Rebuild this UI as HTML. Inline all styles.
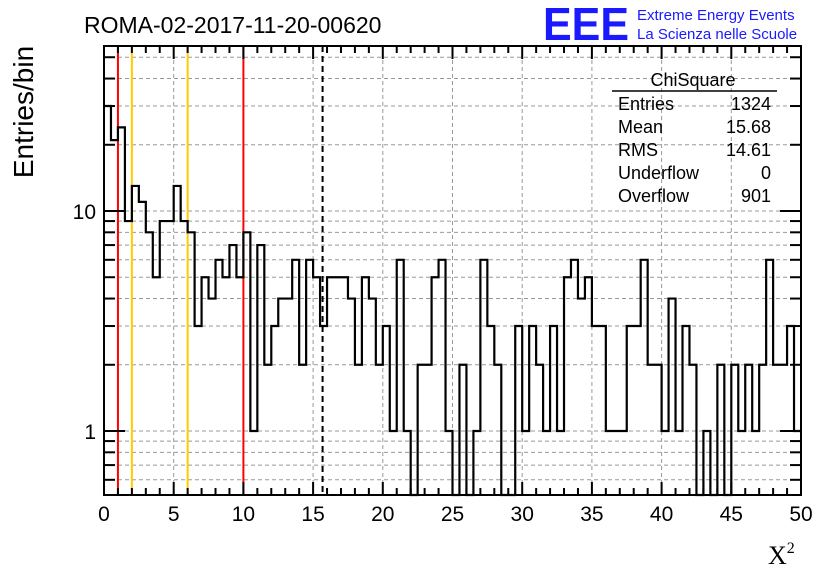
<!DOCTYPE html>
<html><head><meta charset="utf-8">
<style>
html,body{margin:0;padding:0;background:#fff;}
svg{display:block;font-family:"Liberation Sans",sans-serif;}
</style></head>
<body>
<svg id="chart" width="836" height="572" viewBox="0 0 836 572" xmlns="http://www.w3.org/2000/svg">
<rect x="0" y="0" width="836" height="572" fill="#fff"/>
<g id="grid"></g>
<g id="vlines"></g>
<g id="hist"></g>
<g id="ticks"></g>
<rect x="104" y="46" width="697" height="449" fill="none" stroke="#000" stroke-width="2"/>
<text x="84" y="33" font-size="23">ROMA-02-2017-11-20-00620</text>
<text x="543" y="40" font-size="46" font-weight="bold" fill="#1a1aff" textLength="86" lengthAdjust="spacingAndGlyphs">EEE</text>
<text x="637" y="20" font-size="15" fill="#1a1aff">Extreme Energy Events</text>
<text x="637" y="39" font-size="15" fill="#1a1aff">La Scienza nelle Scuole</text>
<g font-size="18">
<text x="693" y="86" text-anchor="middle">ChiSquare</text>
<line x1="612" y1="91" x2="777" y2="91" stroke="#000" stroke-width="1.5"/>
<text x="618" y="110">Entries</text><text x="771" y="110" text-anchor="end">1324</text>
<text x="618" y="133">Mean</text><text x="771" y="133" text-anchor="end">15.68</text>
<text x="618" y="156">RMS</text><text x="771" y="156" text-anchor="end">14.61</text>
<text x="618" y="179">Underflow</text><text x="771" y="179" text-anchor="end">0</text>
<text x="618" y="202">Overflow</text><text x="771" y="202" text-anchor="end">901</text>
</g>
<text transform="translate(33,112) rotate(-90)" text-anchor="middle" font-size="28">Entries/bin</text>
<text x="768" y="564" font-size="26" font-family="'Liberation Serif',serif">X<tspan font-size="16" dy="-11">2</tspan></text>
<g id="labels" font-size="21"></g>
</svg>
<script>
const binValues=[30,21,24,9,13,11,8,5,9,9,13,9,8,3,5,4,6,5,7,5,8,1,7,2,3,4,4,6,2,6,5,3,5,5,5,4,2,5,4,2,3,1,6,1,0,2,2,5,6,1,0,2,0,1,6,3,2,0,0,3,1,3,2,1,3,1,5,6,4,5,3,3,1,1,1,3,3,6,2,2,1,4,1,3,2,0,1,0,2,0,2,1,2,1,2,6,2,2,3,1];
const xTickLabels=[0,5,10,15,20,25,30,35,40,45,50];
const yTickLabels=[1,10];
const cutLinesRed=[1,10];
const cutLinesOrange=[2,6];
const meanValue=15.68;
const binWidth=0.5;

const NS="http://www.w3.org/2000/svg";
const L=104,R=801,T=46,B=495;
const xS=v=>L+(v/50)*(R-L);
const yS=v=>431-220*Math.log10(v);
function mk(tag,attrs,parent){const e=document.createElementNS(NS,tag);for(const k in attrs)e.setAttribute(k,attrs[k]);parent.appendChild(e);return e;}
const grid=document.getElementById('grid'),ticks=document.getElementById('ticks'),labels=document.getElementById('labels'),hist=document.getElementById('hist'),vl=document.getElementById('vlines');
const yMin=Math.pow(10,(431-B)/220),yMax=Math.pow(10,(431-T)/220);
for(let d=-1;d<=1;d++){for(let m=1;m<=9;m++){const v=m*Math.pow(10,d);if(v<yMin||v>yMax)continue;const y=yS(v);
 const g=mk('line',{x1:L,x2:R,y1:y,y2:y,stroke:'#999','stroke-dasharray':'4,3','stroke-width':1},grid);
 
 
 const len=m===1?21:11;
 mk('line',{x1:L,x2:L+len,y1:y,y2:y,stroke:'#000','stroke-width':2},ticks);
 mk('line',{x1:R-len,x2:R,y1:y,y2:y,stroke:'#000','stroke-width':2},ticks);
}}
for(let i=0;i<=50;i++){const x=xS(i);const major=i%5===0;
 if(major&&i>0&&i<50){const g=mk('line',{x1:x,x2:x,y1:T,y2:B,stroke:'#999','stroke-dasharray':'4,3','stroke-width':1},grid);
  
  }
 const len=major?13:7;
 mk('line',{x1:x,x2:x,y1:B,y2:B-len,stroke:'#000','stroke-width':2},ticks);
 mk('line',{x1:x,x2:x,y1:T,y2:T+len,stroke:'#000','stroke-width':2},ticks);
}
xTickLabels.forEach(v=>{const t=mk('text',{x:xS(v),y:521,'text-anchor':'middle'},labels);t.textContent=v;
 
 });
yTickLabels.forEach(v=>{const t=mk('text',{x:96,y:yS(v)+8,'text-anchor':'end'},labels);t.textContent=v;
 
 });
cutLinesRed.forEach(v=>{const l=mk('line',{x1:xS(v),x2:xS(v),y1:T,y2:B,stroke:'#f00','stroke-width':2},vl);
 
 });
cutLinesOrange.forEach(v=>{const l=mk('line',{x1:xS(v),x2:xS(v),y1:T,y2:B,stroke:'#fc0','stroke-width':2},vl);
 
 });
const ml=mk('line',{x1:xS(meanValue),x2:xS(meanValue),y1:T,y2:B,stroke:'#000','stroke-width':2,'stroke-dasharray':'6,4'},vl);


const yOf=v=>v>0?Math.min(B,yS(v)):B;
let d='M'+xS(0)+','+yOf(binValues[0]);
binValues.forEach((v,i)=>{const x0=xS(i*binWidth),x1=xS((i+1)*binWidth),y=yOf(v);
 d+=' L'+x0+','+y+' L'+x1+','+y;
 if(i<binValues.length-1)d+=' L'+x1+','+yOf(binValues[i+1]);});
const p=mk('path',{d:d,fill:'none',stroke:'#000','stroke-width':2.2},hist);


</script>
</body></html>
